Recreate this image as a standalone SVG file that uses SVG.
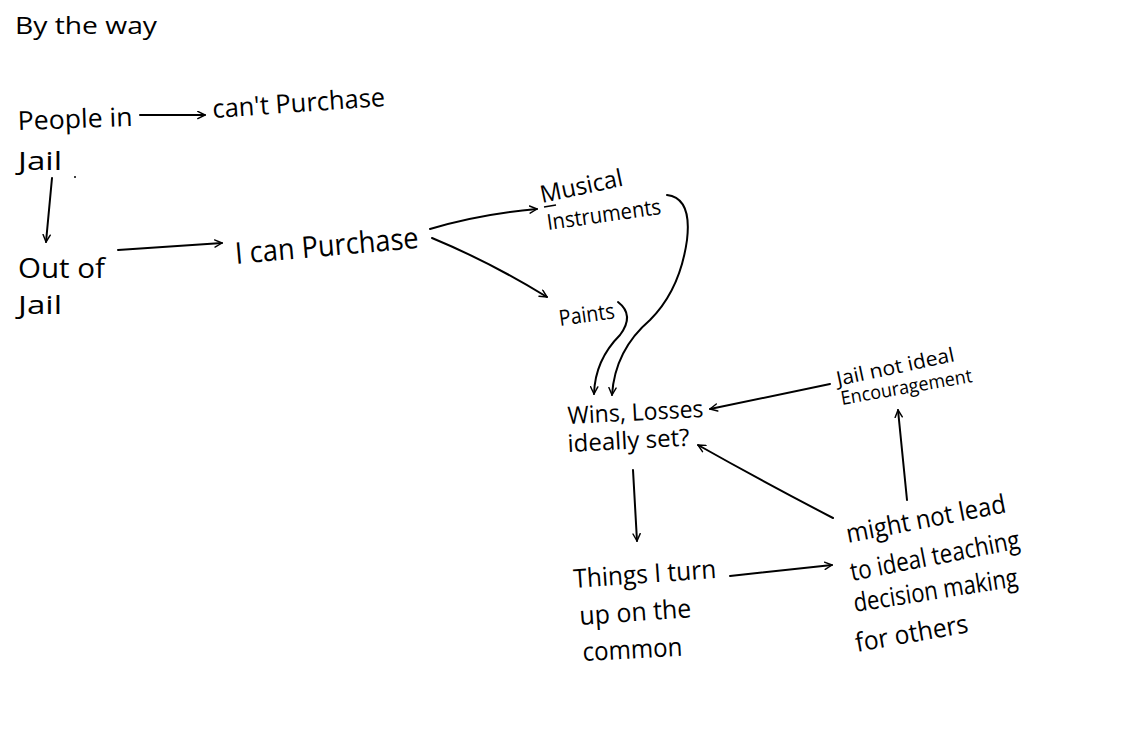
<svg xmlns="http://www.w3.org/2000/svg" width="1123" height="737" viewBox="0 0 1123 737">
<defs>
<marker id="ah" viewBox="0 0 10 10" refX="9" refY="5" markerWidth="9" markerHeight="9" markerUnits="userSpaceOnUse" orient="auto">
<path d="M1,1 L9,5 L1,9" fill="none" stroke="#000" stroke-width="1.6" stroke-linecap="round" stroke-linejoin="round"/>
</marker>
<style>
text{font-family:"Open Sans","Liberation Sans",sans-serif;fill:#000;}
.c{fill:none;stroke:#000;stroke-width:2;stroke-linecap:round;marker-end:url(#ah);}
</style>
</defs>
<rect width="1123" height="737" fill="#fff"/>
<g id="title"><text x="15" y="34" font-size="24" textLength="142" lengthAdjust="spacingAndGlyphs">By the way</text></g>
<g id="people-in-jail">
<text x="18" y="130" font-size="26" textLength="115" lengthAdjust="spacingAndGlyphs" transform="rotate(-2 18 130)">People in</text>
<text x="18" y="170" font-size="26" textLength="44" lengthAdjust="spacingAndGlyphs">Jail</text>
<circle cx="75" cy="177" r="1"/>
</g>
<g id="cant-purchase"><text x="213" y="118" font-size="26" textLength="173" lengthAdjust="spacingAndGlyphs" transform="rotate(-4 213 118)">can't Purchase</text></g>
<g id="out-of-jail">
<text x="18" y="278" font-size="28" textLength="87" lengthAdjust="spacingAndGlyphs">Out of</text>
<text x="18" y="314" font-size="25" textLength="44" lengthAdjust="spacingAndGlyphs">Jail</text>
</g>
<g id="i-can-purchase"><text x="236" y="264" font-size="30" textLength="184" lengthAdjust="spacingAndGlyphs" transform="rotate(-5 236 264)">I can Purchase</text></g>
<g id="musical-instruments">
<text x="542" y="203" font-size="24" textLength="84" lengthAdjust="spacingAndGlyphs" transform="rotate(-12 542 203)">Musical</text>
<line x1="544" y1="207" x2="556" y2="205" stroke="#000" stroke-width="1.5"/>
<text x="548" y="230" font-size="22" textLength="115" lengthAdjust="spacingAndGlyphs" transform="rotate(-8 548 230)">Instruments</text>
</g>
<g id="paints"><text x="560" y="326" font-size="22" textLength="56" lengthAdjust="spacingAndGlyphs" transform="rotate(-8 560 326)">Paints</text></g>
<g id="wins-losses">
<text x="568" y="424" font-size="24" textLength="136" lengthAdjust="spacingAndGlyphs" transform="rotate(-3 568 424)">Wins, Losses</text>
<text x="568" y="452" font-size="24" textLength="122" lengthAdjust="spacingAndGlyphs" transform="rotate(-3 568 452)">ideally set?</text>
</g>
<g id="jail-not-ideal">
<text x="838" y="386" font-size="20" textLength="120" lengthAdjust="spacingAndGlyphs" transform="rotate(-12 838 386)">Jail not ideal</text>
<text x="842" y="405" font-size="19" textLength="133" lengthAdjust="spacingAndGlyphs" transform="rotate(-10 842 405)">Encouragement</text>
</g>
<g id="things-i-turn">
<text x="574" y="588" font-size="26" textLength="143" lengthAdjust="spacingAndGlyphs" transform="rotate(-4 574 588)">Things I turn</text>
<text x="580" y="625" font-size="26" textLength="112" lengthAdjust="spacingAndGlyphs" transform="rotate(-4 580 625)">up on the</text>
<text x="583" y="661" font-size="26" textLength="100" lengthAdjust="spacingAndGlyphs" transform="rotate(-3 583 661)">common</text>
</g>
<g id="might-not-lead">
<text x="848" y="543" font-size="26" textLength="162" lengthAdjust="spacingAndGlyphs" transform="rotate(-11 848 543)">might not lead</text>
<text x="852" y="581" font-size="26" textLength="172" lengthAdjust="spacingAndGlyphs" transform="rotate(-11 852 581)">to ideal teaching</text>
<text x="855" y="612" font-size="26" textLength="166" lengthAdjust="spacingAndGlyphs" transform="rotate(-9 855 612)">decision making</text>
<text x="857" y="652" font-size="26" textLength="114" lengthAdjust="spacingAndGlyphs" transform="rotate(-10 857 652)">for others</text>
</g>
<g id="connectors">
<path class="c" d="M140,115 L205,115"/>
<path class="c" d="M52,178 L46,242"/>
<path class="c" d="M118,250 L222,243"/>
<path class="c" d="M430,229 Q480,214 537,209"/>
<path class="c" d="M432,238 Q490,262 547,297"/>
<path class="c" d="M667,195 Q692,198 687,240 Q680,290 650,320 Q615,350 612,395"/>
<path class="c" d="M618,302 Q635,315 620,335 Q595,360 594,394"/>
<path class="c" d="M830,384 L710,409"/>
<path class="c" d="M907,500 L898,410"/>
<path class="c" d="M833,518 Q760,480 698,445"/>
<path class="c" d="M633,470 L637,541"/>
<path class="c" d="M730,576 L832,565"/>
</g>
</svg>
